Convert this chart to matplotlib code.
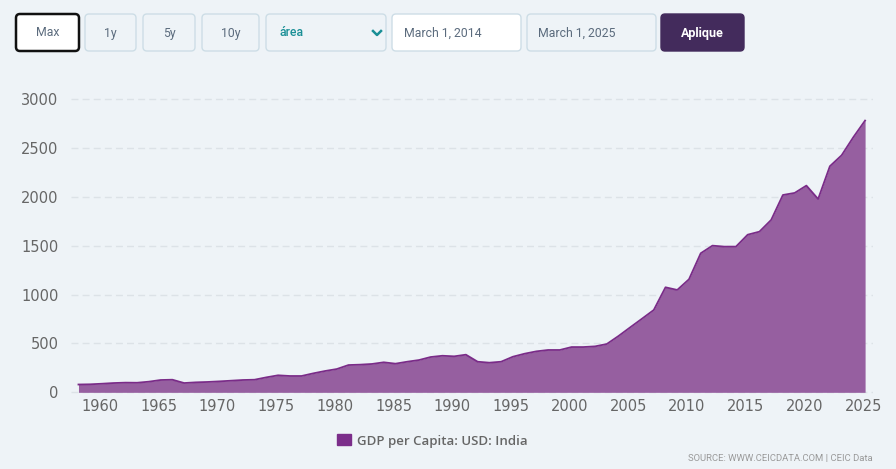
import matplotlib.pyplot as plt
from matplotlib.patches import FancyBboxPatch, Patch

years = list(range(1958, 2026))
gdp_per_capita = [80, 82, 88, 95, 99, 98, 109, 126, 129, 95,
                  102, 106, 112, 119, 126, 129, 153, 174, 167, 167,
                  194, 218, 238, 279, 283, 290, 307, 293, 313, 330,
                  361, 374, 368, 385, 313, 303, 313, 364, 395, 419,
                  433, 433, 463, 463, 470, 494, 576, 665, 753, 842,
                  1074, 1047, 1156, 1422, 1500, 1490, 1490, 1612, 1643, 1763,
                  2018, 2039, 2114, 1977, 2312, 2424, 2609, 2779]
y_ticks = [0, 500, 1000, 1500, 2000, 2500, 3000]
x_ticks = [1960, 1965, 1970, 1975, 1980, 1985, 1990, 1995,
           2000, 2005, 2010, 2015, 2020, 2025]
series_label = "GDP per Capita: USD: India"

bg = '#eef3f7'
W, H = 896, 469

fig = plt.figure(figsize=(W / 100, H / 100), dpi=100, facecolor=bg)

# main chart, placed in pixel terms
left, right, top, bottom = 71, 873, 97.5, 393.8
ax = fig.add_axes([left / W, 1 - bottom / H, (right - left) / W, (bottom - top) / H])
ax.set_facecolor(bg)

# data is dated March 1 of each year
x = [yr + 2 / 12 for yr in years]
ax.fill_between(x, 0, gdp_per_capita, color='#965fa0', linewidth=0, zorder=3)
ax.plot(x, gdp_per_capita, color='#7a2c88', linewidth=1.3, zorder=4)

ax.set_xlim(1957.53, 2025.84)
ax.set_ylim(-15, 3015)
ax.set_yticks(y_ticks)
ax.set_xticks(x_ticks)
ax.tick_params(axis='both', length=0, labelsize=10.5, labelcolor='#666666')
ax.tick_params(axis='y', pad=9)
ax.tick_params(axis='x', pad=4)
ax.grid(axis='y', color='#dce2e7', linestyle=(0, (5, 3)), linewidth=1, zorder=1)
for spine in ax.spines.values():
    spine.set_visible(False)

# legend and source line
fig.legend(handles=[Patch(color='#7b2d8a', label=series_label)],
           loc='center left', bbox_to_anchor=(325 / W, 1 - 441 / H),
           frameon=False, handlelength=1.1, handleheight=0.9, handletextpad=0.4,
           prop={'family': 'Open Sans', 'weight': 'semibold', 'size': 9.5},
           labelcolor='#666666')
fig.text(873 / W, 1 - 458 / H, "SOURCE: WWW.CEICDATA.COM | CEIC Data",
         ha='right', va='center', fontsize=6.8, color='#999999', family='Roboto')

# control bar on top, drawn in pixel coordinates
ui = fig.add_axes([0, 0, 1, 1], zorder=5)
ui.set_xlim(0, W)
ui.set_ylim(H, 0)
ui.axis('off')
ui.patch.set_alpha(0)


def box(x0, x1, fc, ec, lw=1):
    ui.add_patch(FancyBboxPatch((x0, 14), x1 - x0, 37,
                                boxstyle='round,pad=0,rounding_size=4',
                                fc=fc, ec=ec, lw=lw))


txt = dict(fontsize=8.8, color='#5b6b7d', family='Roboto', va='center')
box(16, 79, 'white', '#111111', 1.8)
ui.text(47.5, 33, "Max", ha='center', **txt)
for x0, x1, lab in [(85, 136, "1y"), (143, 195, "5y"), (202, 259, "10y")]:
    box(x0, x1, bg, '#cddde6')
    ui.text((x0 + x1) / 2, 33, lab, ha='center', **txt)
box(266, 386, bg, '#cddde6')
ui.text(280, 33, "área", ha='left', fontsize=8.8, color='#1a8f96',
        family='Roboto', weight='medium', va='center')
ui.plot([373, 377, 381], [31, 35, 31], color='#1a8f96', lw=1.8)
box(392, 521, 'white', '#cddde6')
ui.text(404, 33, "March 1, 2014", ha='left', **txt)
box(527, 656, bg, '#cddde6')
ui.text(538, 33, "March 1, 2025", ha='left', **txt)
box(661, 744, '#432b5c', '#432b5c')
ui.text(702.5, 33, "Aplique", ha='center', va='center', fontsize=9,
        color='white', family='Roboto', weight='bold')

fig.savefig('out.png', dpi=100, facecolor=bg)
